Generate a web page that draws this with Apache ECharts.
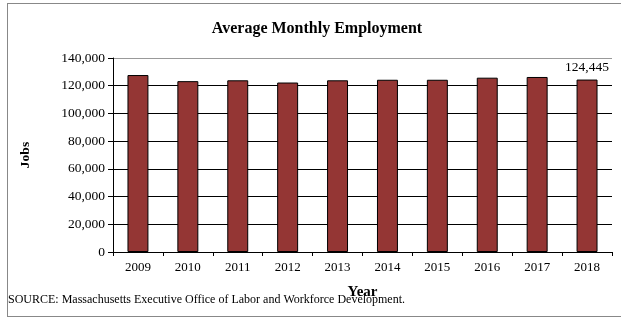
<!DOCTYPE html>
<html><head><meta charset="utf-8">
<script src="https://cdn.jsdelivr.net/npm/echarts@6/dist/echarts.min.js"></script>
<style>html,body{margin:0;padding:0;background:#fff;overflow:hidden}#c{width:621px;height:320px}
#frame{position:absolute;left:7px;top:3px;width:640px;height:312px;border:1.5px solid #888;pointer-events:none}</style>
</head><body><div id="c"></div><div id="frame"></div>
<script>
const years = ['2009','2010','2011','2012','2013','2014','2015','2016','2017','2018'];
const jobs = [127700, 123300, 123900, 122300, 123900, 124300, 124300, 125800, 126300, 124445];
const yTicks = [0, 20000, 40000, 60000, 80000, 100000, 120000, 140000];
const titleText = 'Average Monthly Employment';
const sourceText = 'SOURCE: Massachusetts Executive Office of Labor and Workforce Development.';
const F = '"Liberation Serif","Times New Roman",serif';
const chart = echarts.init(document.getElementById('c'));
chart.setOption({
  animation: false,
  title: {text: titleText, left: 312, textAlign: 'center', top: 16,
    textStyle: {fontFamily: F, fontSize: 16, fontWeight: 'bold', color: '#000'}},
  graphic: [{type: 'text', left: 8, top: 294, style: {text: sourceText, font: '12px ' + F, fill: '#000'}}],
  grid: {left: 113, right: 9, top: 58, bottom: 68},
  xAxis: {type: 'category', data: years, name: 'Year', nameLocation: 'middle', nameGap: 33,
    nameTextStyle: {fontFamily: F, fontSize: 15, fontWeight: 'bold', color: '#000'},
    axisLine: {lineStyle: {color: '#000', width: 1}},
    axisTick: {show: true, length: 4, lineStyle: {color: '#000'}},
    axisLabel: {fontFamily: F, fontSize: 13, color: '#000', margin: 9}},
  yAxis: {type: 'value', min: yTicks[0], max: yTicks[yTicks.length - 1], interval: 20000,
    name: 'Jobs', nameLocation: 'middle', nameGap: 80, nameRotate: 90,
    nameTextStyle: {fontFamily: F, fontSize: 13.5, fontWeight: 'bold', color: '#000'},
    axisLine: {show: true, lineStyle: {color: '#000'}},
    axisTick: {show: true, length: 5, lineStyle: {color: '#000'}},
    axisLabel: {fontFamily: F, fontSize: 13.5, color: '#000', margin: 8,
      formatter: v => v.toLocaleString('en-US')},
    splitLine: {show: true, lineStyle: {color: ['#000','#000','#000','#000','#000','#000','#000','#999'], width: 1}}},
  series: [{type: 'bar', data: jobs.map((v, i) => i === jobs.length - 1 ?
      {value: v, label: {show: true, position: 'top', distance: 5, fontFamily: F, fontSize: 13.5, color: '#000',
        formatter: p => p.value.toLocaleString('en-US')}} : v),
    barWidth: '42%',
    itemStyle: {color: '#943634', borderColor: '#000', borderWidth: 1}}]
});
</script></body></html>
